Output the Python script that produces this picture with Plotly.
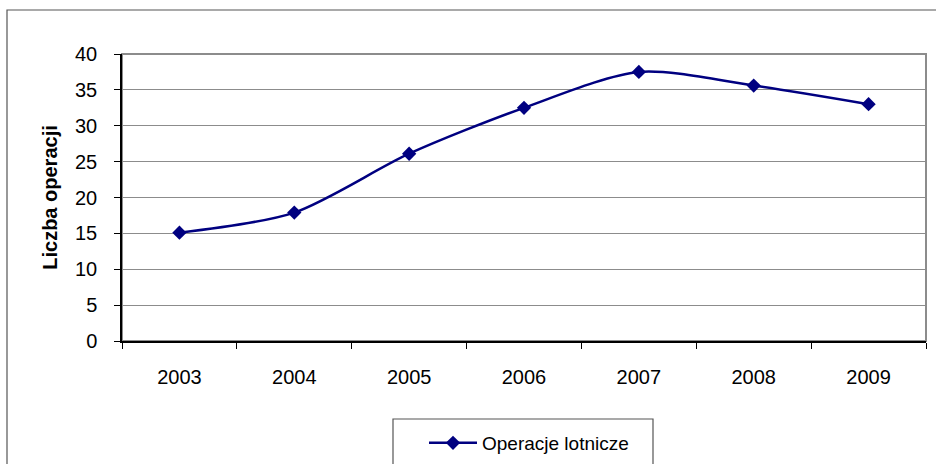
import plotly.graph_objects as go

years = ["2003", "2004", "2005", "2006", "2007", "2008", "2009"]
values = [15.1, 17.9, 26.1, 32.5, 37.5, 35.6, 33.0]
series_name = "Operacje lotnicze"
y_title = "Liczba operacji"

FONT = "Arial, 'Liberation Sans', sans-serif"
W, H = 936, 464
ML, MR, MT, MB = 122, 10, 54, 123
pw, ph = W - ML - MR, H - MT - MB

def px_x(p):
    return (p - ML) / pw

def px_y(p):
    return (H - MB - p) / ph

fig = go.Figure()
fig.add_trace(go.Scatter(
    x=years, y=values, name=series_name, mode="lines+markers",
    line=dict(color="#000080", width=2.5, shape="spline", smoothing=0.8),
    marker=dict(symbol="diamond", size=11, color="#000080"),
))

fig.update_layout(
    width=W, height=H,
    margin=dict(l=ML, r=MR, t=MT, b=MB, autoexpand=False),
    paper_bgcolor="white", plot_bgcolor="white",
    font=dict(family=FONT, size=20, color="black"),
    showlegend=True,
    legend=dict(x=px_x(424), y=px_y(443), xanchor="left", yanchor="middle",
                bgcolor="rgba(0,0,0,0)", borderwidth=0,
                font=dict(family=FONT, size=19, color="black"), itemwidth=48),
    xaxis=dict(type="category", range=[-0.5, 6.5], showgrid=False, showline=True,
               linecolor="black", linewidth=1.5, ticks="outside", ticklen=6,
               tickcolor="black", tickson="boundaries", tickfont=dict(size=20),
               tickangle=0, ticklabelstandoff=17, automargin=False),
    yaxis=dict(range=[0, 40], dtick=5, showgrid=True, gridcolor="#8c8c8c",
               gridwidth=1.2, showline=True, linecolor="black", linewidth=1.5,
               ticks="outside", ticklen=6, tickcolor="black", zeroline=False,
               tickfont=dict(size=20), ticklabelstandoff=13, automargin=False,
               title=dict(text="<b>" + y_title + "</b>", font=dict(size=20), standoff=12)),
    shapes=[
        # plot area border (top/right)
        dict(type="rect", xref="paper", yref="paper", x0=0, x1=1, y0=0, y1=1,
             line=dict(color="#8c8c8c", width=2), layer="below"),
        # outer chart frame
        dict(type="rect", xref="paper", yref="paper", x0=px_x(7), x1=px_x(960),
             y0=px_y(490), y1=px_y(10), line=dict(color="#555555", width=1.2)),
        # legend frame
        dict(type="rect", xref="paper", yref="paper", x0=px_x(393), x1=px_x(653),
             y0=px_y(490), y1=px_y(419), line=dict(color="#555555", width=1.2)),
    ],
)

fig.write_html("out.html")
